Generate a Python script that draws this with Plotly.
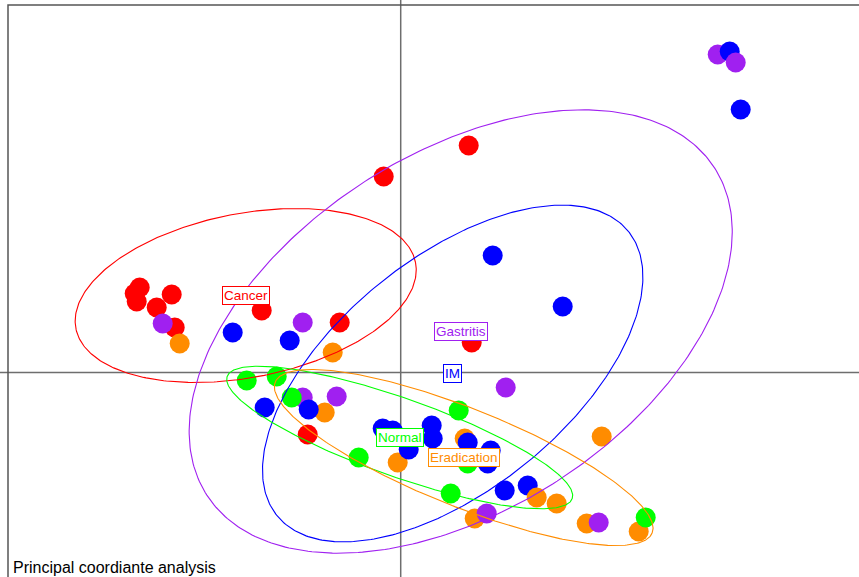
import numpy as np
import plotly.graph_objects as go

# Sample scores on the first two principal coordinates, in drawing order
pc1 = [
    -0.261, -0.266, -0.264, -0.229, -0.244, -0.226, -0.139, -0.061, -0.017, 0.068, 0.071, -0.093,
    -0.068, -0.076, -0.003, 0.064, 0.156, 0.201, 0.186, 0.238, 0.074,
    0.317, -0.238, -0.098, -0.098, -0.064, 0.105, 0.086, 0.198,
    -0.154, -0.124, -0.109, -0.042, 0.058, 0.067, 0.050, 0.245,
    0.329, 0.340, 0.092, 0.162, -0.168, -0.111, -0.136, -0.092, -0.018, -0.008,
    0.031, 0.032, 0.008, 0.067, 0.090, 0.087, 0.104, 0.127,
    0.136, -0.221, 0.335,
]
pc2 = [
    0.085, 0.079, 0.071, 0.078, 0.065, 0.045, 0.062, 0.050, 0.196, 0.227, 0.030, -0.062,
    0.020, -0.040, -0.090, -0.066, -0.131, -0.064, -0.151, -0.159, -0.146,
    0.318, 0.049, 0.050, -0.025, -0.024, -0.015, -0.141, -0.150,
    -0.008, -0.004, -0.025, -0.085, -0.038, -0.091, -0.121, -0.145,
    0.321, 0.263, 0.117, 0.066, 0.040, 0.032, -0.035, -0.037, -0.056, -0.058,
    -0.053, -0.066, -0.077, -0.070, -0.078, -0.091, -0.118, -0.113,
    -0.125, 0.029, 0.310,
]
group = (
    ["Cancer"] * 12
    + ["Eradication"] * 9
    + ["Gastritis"] * 8
    + ["Normal"] * 8
    + ["IM"] * 18
    + ["Eradication"] * 2
    + ["Gastritis"]
)

# Class summaries: centre, ellipse semi-axes and orientation (degrees)
classes = ["Cancer", "Gastritis", "IM", "Normal", "Eradication"]
class_colors = ["#FF0000", "#A020F0", "#0000FF", "#00FF00", "#FF8C00"]
centre_x = [-0.155, 0.060, 0.052, -0.001, 0.063]
centre_y = [0.077, 0.041, -0.001, -0.065, -0.085]
semi_major = [0.173, 0.302, 0.226, 0.183, 0.203]
semi_minor = [0.082, 0.178, 0.116, 0.039, 0.049]
angle_deg = [11.0, 32.8, 39.0, -19.5, -21.8]

subtitle = "Principal coordiante analysis"

color_of = dict(zip(classes, class_colors))
x_range = [-0.4007, 0.4583]
y_range = [-0.2045, 0.3725]
font_family = "Liberation Sans, Arial, Helvetica, sans-serif"

fig = go.Figure()

# Points
fig.add_trace(go.Scatter(
    x=pc1, y=pc2, mode="markers",
    marker=dict(size=20, color=[color_of[g] for g in group], line=dict(width=0)),
    hoverinfo="skip",
))

# Class ellipses
t = np.linspace(0, 2 * np.pi, 361)
for name, col, cx, cy, a, b, ang in zip(classes, class_colors, centre_x, centre_y,
                                         semi_major, semi_minor, angle_deg):
    th = np.deg2rad(ang)
    ex = cx + a * np.cos(t) * np.cos(th) - b * np.sin(t) * np.sin(th)
    ey = cy + a * np.cos(t) * np.sin(th) + b * np.sin(t) * np.cos(th)
    fig.add_trace(go.Scatter(x=ex, y=ey, mode="lines",
                             line=dict(color=col, width=1.1), hoverinfo="skip"))

# Class labels at the centres
for name, col, cx, cy in zip(classes, class_colors, centre_x, centre_y):
    fig.add_annotation(x=cx, y=cy, text=name, showarrow=False,
                       font=dict(family=font_family, size=13.5, color=col),
                       bgcolor="white", bordercolor=col, borderwidth=1, borderpad=1,
                       xanchor="center", yanchor="middle")

# Origin axes and frame
fig.add_shape(type="line", x0=0, x1=0, y0=y_range[0] - 1, y1=y_range[1] + 1,
              line=dict(color="#6e6e6e", width=1.5), layer="below")
fig.add_shape(type="line", x0=x_range[0] - 1, x1=x_range[1] + 1, y0=0, y1=0,
              line=dict(color="#6e6e6e", width=1.5), layer="below")
fig.add_shape(type="rect", x0=-0.3927, x1=x_range[1] + 1, y0=y_range[0] - 1, y1=0.3675,
              line=dict(color="#555555", width=1.5), layer="below")

fig.add_annotation(xref="paper", yref="paper", x=12 / 859, y=0, text=subtitle,
                   showarrow=False, xanchor="left", yanchor="bottom",
                   font=dict(family=font_family, size=16, color="black"),
                   bgcolor="white", borderpad=0)

fig.update_layout(
    width=859, height=577, margin=dict(l=0, r=0, t=0, b=0),
    showlegend=False, plot_bgcolor="white", paper_bgcolor="white",
    xaxis=dict(range=x_range, visible=False, fixedrange=True),
    yaxis=dict(range=y_range, visible=False, fixedrange=True),
)

fig.write_html("out.html")
